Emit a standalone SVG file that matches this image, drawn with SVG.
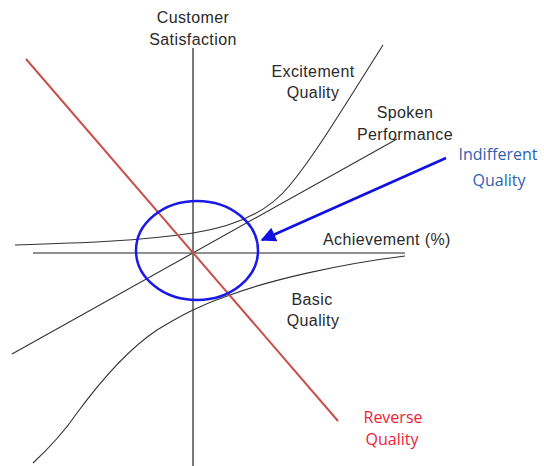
<svg xmlns="http://www.w3.org/2000/svg" width="544" height="466" viewBox="0 0 544 466">
<defs>
<style>
.ax{stroke:#222;stroke-width:1.2;fill:none}
.cv{stroke:#333;stroke-width:1.1;fill:none}
.t{font-family:"Liberation Sans",Arial,sans-serif;font-size:16px;fill:#2a2a2a;text-anchor:middle;letter-spacing:0.4px}
.c{font-family:"Open Sans","Noto Sans",sans-serif;font-size:16px;text-anchor:middle}
</style>
<marker id="ah" viewBox="0 0 10 10" refX="9" refY="5" markerWidth="7" markerHeight="6" markerUnits="strokeWidth" orient="auto">
<path d="M0,0 L10,5 L0,10 z" fill="#1010e0"/>
</marker>
</defs>
<rect width="544" height="466" fill="#fff"/>
<g id="connectors">
<line class="ax" x1="193" y1="48" x2="193" y2="466"/>
<line class="ax" x1="33" y1="253" x2="405" y2="253"/>
<path class="cv" d="M15,245 C80,243 140,241 193,233 C240,226 270,210 290,185 C315,155 345,105 383,45"/>
<line class="cv" x1="12" y1="354" x2="397" y2="139"/>
<path class="cv" d="M405,256 C340,264 270,280 230,295 C200,305 180,316 157,330 C130,348 105,375 77,413 C62,435 47,450 33,463"/>
<line x1="26" y1="59" x2="338" y2="421" stroke="#c8504b" stroke-width="2"/>
<ellipse cx="197" cy="250.5" rx="61" ry="49.5" fill="none" stroke="#1a1ae6" stroke-width="2.5"/>
<line x1="446" y1="158" x2="262" y2="240" stroke="#1010e0" stroke-width="2.5" marker-end="url(#ah)"/>
</g>
<g id="customer-satisfaction"><text class="t" x="193" y="23">Customer</text><text class="t" x="193" y="45">Satisfaction</text></g>
<g id="excitement-quality"><text class="t" x="313" y="77">Excitement</text><text class="t" x="313" y="98">Quality</text></g>
<g id="spoken-performance"><text class="t" x="405" y="118">Spoken</text><text class="t" x="405" y="140">Performance</text></g>
<g id="indifferent-quality"><text class="c" x="498" y="160" fill="#2f5fb3">Indifferent</text><text class="c" x="499" y="186" fill="#2f5fb3">Quality</text></g>
<g id="achievement"><text class="t" x="323" y="245" style="text-anchor:start">Achievement (%)</text></g>
<g id="basic-quality"><text class="t" x="312" y="305">Basic</text><text class="t" x="313" y="326">Quality</text></g>
<g id="reverse-quality"><text class="c" x="393" y="423" fill="#f0203a">Reverse</text><text class="c" x="392" y="445" fill="#f0203a">Quality</text></g>
</svg>
